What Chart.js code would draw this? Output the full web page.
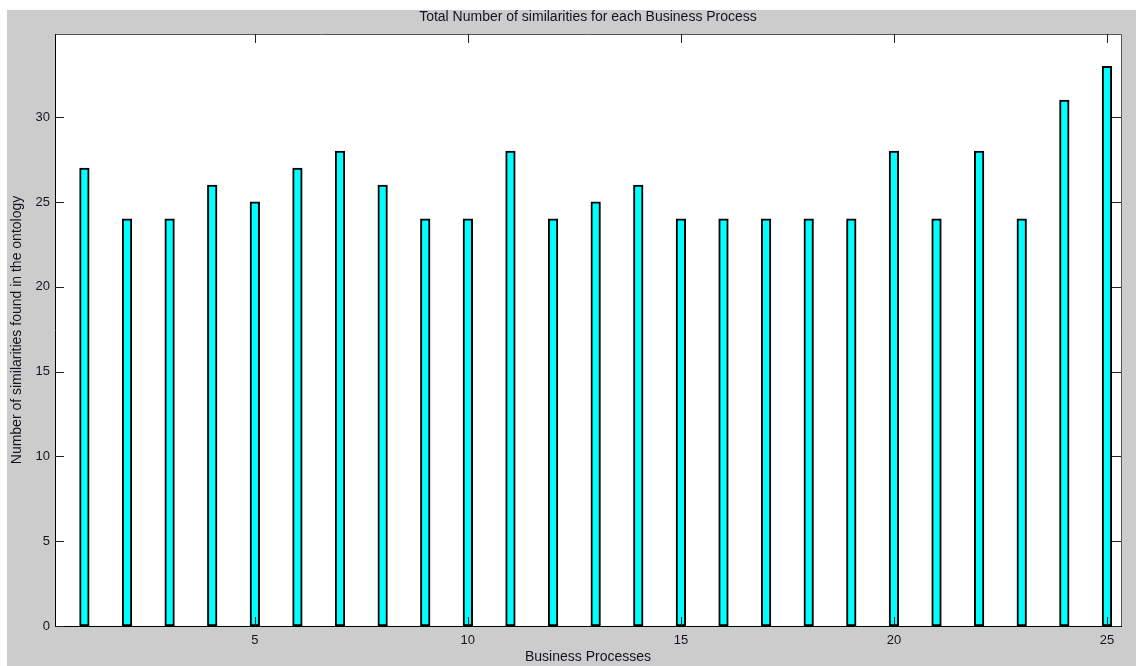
<!DOCTYPE html>
<html>
<head>
<meta charset="utf-8">
<script src="https://cdn.jsdelivr.net/npm/chart.js@4/dist/chart.umd.min.js"></script>
<style>
  html, body { margin: 0; padding: 0; background: #ffffff; }
  #wrap { position: relative; width: 1136px; height: 666px; }
</style>
</head>
<body>
<div id="wrap"><canvas id="c" width="1136" height="666"></canvas></div>
<script>
// Business process numbers and the similarity count found for each one
const processes = [1, 2, 3, 4, 5, 6, 7, 8, 9, 10, 11, 12, 13, 14, 15, 16, 17, 18, 19, 20, 21, 22, 23, 24, 25];
const similarities = [27, 24, 24, 26, 25, 27, 28, 26, 24, 24, 28, 24, 25, 26, 24, 24, 24, 24, 24, 28, 24, 28, 24, 31, 33];

// Axis tick values
const xTicks = [5, 10, 15, 20, 25];
const yTicks = [0, 5, 10, 15, 20, 25, 30];

const titleText = 'Total Number of similarities for each Business Process';
const xTitle = 'Business Processes';
const yTitle = 'Number of similarities found in the ontology';

const FONT = "'Liberation Sans', Arial, sans-serif";
const TEXT = '#141420';

// Gray figure background and white plot box
const figureBackground = {
  id: 'figureBackground',
  beforeDraw(chart) {
    const ctx = chart.ctx;
    const a = chart.chartArea;
    ctx.save();
    ctx.fillStyle = '#ffffff';
    ctx.fillRect(0, 0, chart.width, chart.height);
    ctx.fillStyle = '#cccccc';
    ctx.fillRect(7, 10, chart.width - 7, chart.height - 10);
    ctx.fillStyle = '#ffffff';
    ctx.fillRect(a.left, a.top, a.right - a.left, a.bottom - a.top);
    ctx.restore();
  }
};

// Box frame and inward tick marks on all four sides
const boxTicks = {
  id: 'boxTicks',
  afterDraw(chart) {
    const ctx = chart.ctx;
    const a = chart.chartArea;
    const xs = chart.scales.x, ys = chart.scales.y;
    const len = 9;
    ctx.save();
    ctx.lineWidth = 1;
    // top and right frame
    ctx.strokeStyle = '#555555';
    ctx.beginPath();
    ctx.moveTo(a.left, a.top + 0.5);
    ctx.lineTo(a.right + 0.5, a.top + 0.5);
    ctx.lineTo(a.right + 0.5, a.bottom);
    ctx.stroke();
    // bottom and left axis lines
    ctx.strokeStyle = '#000000';
    ctx.beginPath();
    ctx.moveTo(a.left + 0.5, a.top);
    ctx.lineTo(a.left + 0.5, a.bottom + 0.5);
    ctx.lineTo(a.right + 1, a.bottom + 0.5);
    ctx.stroke();
    // tick marks
    ctx.strokeStyle = '#222222';
    ctx.beginPath();
    xTicks.forEach(v => {
      const px = Math.round(xs.getPixelForValue(v)) + 0.5;
      ctx.moveTo(px, a.bottom);
      ctx.lineTo(px, a.bottom - len);
      ctx.moveTo(px, a.top);
      ctx.lineTo(px, a.top + len);
    });
    yTicks.forEach(v => {
      const py = Math.round(ys.getPixelForValue(v)) + 0.5;
      ctx.moveTo(a.left, py);
      ctx.lineTo(a.left + len, py);
      ctx.moveTo(a.right, py);
      ctx.lineTo(a.right - len, py);
    });
    ctx.stroke();
    ctx.restore();
  }
};

new Chart(document.getElementById('c'), {
  type: 'bar',
  data: {
    datasets: [{
      data: processes.map((p, i) => ({ x: p, y: similarities[i] })),
      backgroundColor: '#00ffff',
      borderColor: '#000000',
      borderWidth: 2,
      borderSkipped: false,
      barThickness: 9.6
    }]
  },
  options: {
    responsive: false,
    animation: false,
    events: [],
    layout: { padding: { left: 0, right: 15, top: 0, bottom: 0 } },
    plugins: {
      legend: { display: false },
      tooltip: { enabled: false },
      title: {
        display: true,
        text: titleText,
        fullSize: false,
        color: TEXT,
        font: { family: FONT, size: 14, weight: 'normal', lineHeight: 1.2 },
        padding: { top: 9.2, bottom: 8 }
      }
    },
    scales: {
      x: {
        type: 'linear',
        min: 0.31,
        max: 25.33,
        offset: false,
        afterBuildTicks: s => { s.ticks = xTicks.map(v => ({ value: v })); },
        afterFit: s => { s.height = 40; },
        grid: { display: false, drawTicks: false },
        border: { display: false },
        ticks: {
          color: TEXT,
          padding: 6.5,
          maxRotation: 0,
          autoSkip: false,
          font: { family: FONT, size: 13, lineHeight: 1.2 }
        },
        title: {
          display: true,
          text: xTitle,
          color: TEXT,
          font: { family: FONT, size: 14, lineHeight: 1.2 },
          padding: { top: 0.8, bottom: 0 }
        }
      },
      y: {
        type: 'linear',
        min: 0,
        max: 34.9,
        afterBuildTicks: s => { s.ticks = yTicks.map(v => ({ value: v })); },
        afterFit: s => { s.width = 55; },
        grid: { display: false, drawTicks: false },
        border: { display: false },
        ticks: {
          color: TEXT,
          padding: 5,
          autoSkip: false,
          font: { family: FONT, size: 13, lineHeight: 1.2 }
        },
        title: {
          display: true,
          text: yTitle,
          color: TEXT,
          font: { family: FONT, size: 14, lineHeight: 1.2 },
          padding: { top: 9.2, bottom: 0 }
        }
      }
    }
  },
  plugins: [figureBackground, boxTicks]
});
</script>
</body>
</html>
